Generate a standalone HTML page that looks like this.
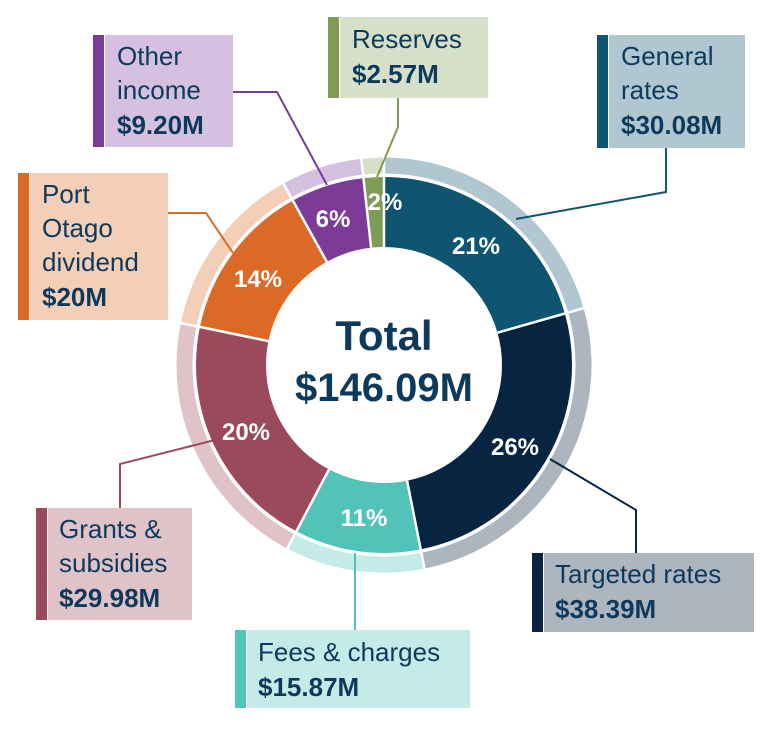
<!DOCTYPE html>
<html><head><meta charset="utf-8"><style>
body{margin:0;background:#fff;width:767px;height:730px;overflow:hidden}
svg{display:block}
text{font-family:"Liberation Sans",sans-serif}
.l{font-size:26px;fill:#0d3a5c}
.v{font-size:26px;fill:#0d3a5c;font-weight:bold}
.p{font-size:24px;fill:#fff;font-weight:bold;text-anchor:middle}
</style></head><body>
<svg width="767" height="730" viewBox="0 0 767 730">
<g transform="rotate(-90 384 365)" fill="none">
<circle cx="384" cy="365" r="199" stroke="#b0c7d2" stroke-width="17" stroke-dasharray="257.5 1250.4" stroke-dashoffset="0"/>
<circle cx="384" cy="365" r="199" stroke="#adb5bf" stroke-width="17" stroke-dasharray="328.6 1250.4" stroke-dashoffset="-257.5"/>
<circle cx="384" cy="365" r="199" stroke="#c5ebe8" stroke-width="17" stroke-dasharray="135.8 1250.4" stroke-dashoffset="-586.1"/>
<circle cx="384" cy="365" r="199" stroke="#dfc3c9" stroke-width="17" stroke-dasharray="256.6 1250.4" stroke-dashoffset="-721.9"/>
<circle cx="384" cy="365" r="199" stroke="#f3cfb8" stroke-width="17" stroke-dasharray="171.2 1250.4" stroke-dashoffset="-978.5"/>
<circle cx="384" cy="365" r="199" stroke="#d6c0df" stroke-width="17" stroke-dasharray="78.8 1250.4" stroke-dashoffset="-1149.7"/>
<circle cx="384" cy="365" r="199" stroke="#d6e0c8" stroke-width="17" stroke-dasharray="22 1250.4" stroke-dashoffset="-1228.5"/>
<circle cx="384" cy="365" r="153" stroke="#0f5470" stroke-width="70" stroke-dasharray="197.9 961.3" stroke-dashoffset="0"/>
<circle cx="384" cy="365" r="153" stroke="#072441" stroke-width="70" stroke-dasharray="252.6 961.3" stroke-dashoffset="-197.9"/>
<circle cx="384" cy="365" r="153" stroke="#52c3b9" stroke-width="70" stroke-dasharray="104.4 961.3" stroke-dashoffset="-450.5"/>
<circle cx="384" cy="365" r="153" stroke="#9b4a5c" stroke-width="70" stroke-dasharray="197.3 961.3" stroke-dashoffset="-554.9"/>
<circle cx="384" cy="365" r="153" stroke="#dc6a27" stroke-width="70" stroke-dasharray="131.6 961.3" stroke-dashoffset="-752.2"/>
<circle cx="384" cy="365" r="153" stroke="#7b3b96" stroke-width="70" stroke-dasharray="60.6 961.3" stroke-dashoffset="-883.8"/>
<circle cx="384" cy="365" r="153" stroke="#7f9c55" stroke-width="70" stroke-dasharray="16.9 961.3" stroke-dashoffset="-944.4"/>
</g>
<circle cx="384" cy="365" r="190" fill="none" stroke="#fff" stroke-width="3"/>
<g stroke="#fff" stroke-width="2.5">
<line x1="384" y1="247" x2="384" y2="155"/>
<line x1="497.5" y1="332.7" x2="586" y2="307.5"/>
<line x1="407.1" y1="480.7" x2="425" y2="571"/>
<line x1="329" y1="469.4" x2="286" y2="551"/>
<line x1="268.5" y1="341.1" x2="178" y2="322.4"/>
<line x1="326.8" y1="261.8" x2="282" y2="181"/>
<line x1="371.1" y1="247.7" x2="361" y2="156"/>
</g>
<g fill="none" stroke-width="2">
<polyline points="233,92 277,92 327,185" stroke="#7b3b96"/>
<polyline points="398,98 398,127 377,177" stroke="#7f9c55"/>
<polyline points="666,148 666,192 516,219" stroke="#0f5470"/>
<polyline points="168,213 206,213 233,253" stroke="#dc6a27"/>
<polyline points="120,508 120,464 215,440" stroke="#9b4a5c"/>
<polyline points="355,553 355,630" stroke="#52c3b9"/>
<polyline points="550,459 636,510 636,553" stroke="#072441"/>
</g>
<rect x="93" y="35" width="11" height="112" fill="#7b3b96"/><rect x="105" y="35" width="128" height="112" fill="#d6c0df"/>
<rect x="328" y="17" width="11" height="81" fill="#7f9c55"/><rect x="340" y="17" width="148" height="81" fill="#d6e0c8"/>
<rect x="597" y="35" width="11" height="113" fill="#0f5470"/><rect x="609" y="35" width="136" height="113" fill="#b0c7d2"/>
<rect x="18" y="173" width="11" height="147" fill="#dc6a27"/><rect x="30" y="173" width="138" height="147" fill="#f3cfb8"/>
<rect x="36" y="508" width="11" height="112" fill="#9b4a5c"/><rect x="48" y="508" width="144" height="112" fill="#dfc3c9"/>
<rect x="235" y="630" width="11" height="78" fill="#52c3b9"/><rect x="247" y="630" width="223" height="78" fill="#c5ebe8"/>
<rect x="532" y="553" width="11" height="79" fill="#072441"/><rect x="544" y="553" width="210" height="79" fill="#adb5bf"/>
<text class="l" x="117" y="65">Other</text><text class="l" x="117" y="99">income</text><text class="v" x="117" y="134">$9.20M</text>
<text class="l" x="352" y="48">Reserves</text><text class="v" x="352" y="83">$2.57M</text>
<text class="l" x="621" y="65">General</text><text class="l" x="621" y="99">rates</text><text class="v" x="621" y="134">$30.08M</text>
<text class="l" x="42" y="203">Port</text><text class="l" x="42" y="237">Otago</text><text class="l" x="42" y="271">dividend</text><text class="v" x="42" y="306">$20M</text>
<text class="l" x="59" y="538">Grants &amp;</text><text class="l" x="59" y="572">subsidies</text><text class="v" x="59" y="607">$29.98M</text>
<text class="l" x="258" y="661">Fees &amp; charges</text><text class="v" x="258" y="696">$15.87M</text>
<text class="l" x="555" y="583">Targeted rates</text><text class="v" x="555" y="618">$38.39M</text>
<text class="p" x="476" y="254">21%</text>
<text class="p" x="515" y="455">26%</text>
<text class="p" x="364" y="526">11%</text>
<text class="p" x="246" y="440">20%</text>
<text class="p" x="258" y="287">14%</text>
<text class="p" x="333" y="227">6%</text>
<text class="p" x="385" y="210">2%</text>
<text x="384" y="350" text-anchor="middle" style="font-size:42px;font-weight:bold;fill:#0d3a5c">Total</text>
<text x="384" y="401" text-anchor="middle" style="font-size:40px;font-weight:bold;fill:#0d3a5c">$146.09M</text>
</svg>
</body></html>
